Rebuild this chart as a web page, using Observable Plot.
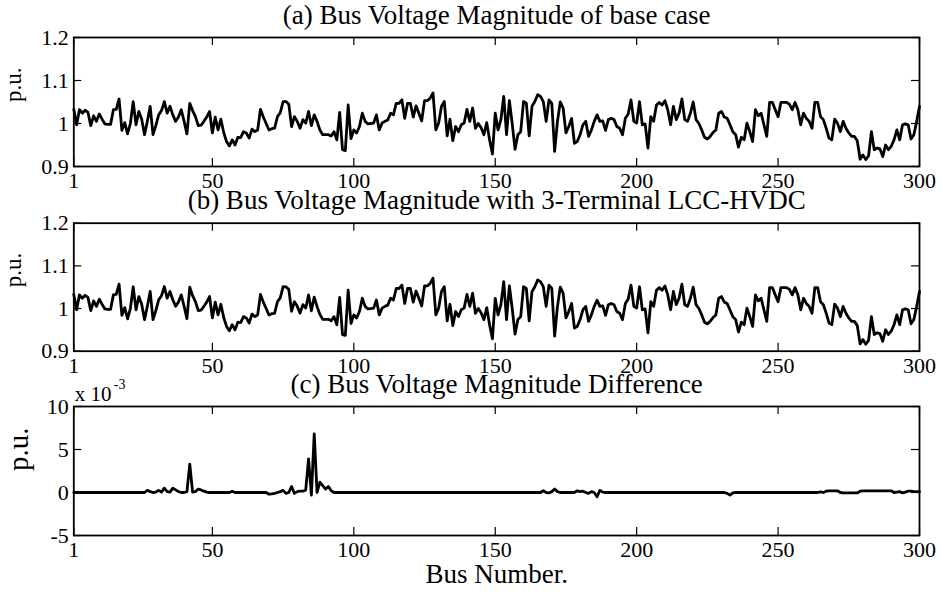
<!DOCTYPE html>
<html>
<head>
<meta charset="utf-8">
<script src="https://cdn.jsdelivr.net/npm/d3@7"></script>
<script src="https://cdn.jsdelivr.net/npm/@observablehq/plot@0.6"></script>
<style>
  html, body { margin: 0; padding: 0; background: #ffffff; }
  #chart { position: relative; width: 942px; height: 592px; overflow: hidden; background: #ffffff; }
  #chart svg { position: absolute; left: 0; overflow: visible; background: transparent; }
  #chart svg, #chart svg text { font-family: "Liberation Serif", "Times New Roman", serif !important; }
</style>
</head>
<body>
<div id="chart"></div>
<script>
// ---------- data ----------
const busNumbers = d3.range(1, 301);

// (a) base-case bus voltage magnitude, p.u., buses 1..300
const voltageBase = [
  1.033, 0.997, 1.032, 1.024, 1.031, 1.026, 0.995, 1.018, 1.005, 1.022, 1.010, 0.999, 0.998, 0.998, 1.032, 1.033, 1.057, 0.984, 1.002, 0.976, 1.000, 1.051, 0.997, 1.028, 1.010,
  0.974, 1.005, 1.040, 0.974, 0.995, 1.020, 1.030, 1.051, 1.024, 1.040, 1.020, 1.005, 1.015, 1.032, 1.005, 0.976, 1.047, 1.030, 1.016, 0.995, 0.996, 1.005, 1.015, 1.028, 0.978,
  1.015, 0.985, 1.010, 0.979, 0.958, 0.948, 0.962, 0.950, 0.968, 0.967, 0.981, 0.978, 0.966, 0.987, 0.981, 0.985, 1.033, 1.015, 1.000, 0.985, 0.988, 0.989, 1.016, 1.025, 1.051,
  1.051, 1.045, 0.993, 1.016, 1.005, 0.989, 1.009, 1.001, 1.028, 0.995, 1.020, 1.005, 0.985, 0.974, 0.974, 0.974, 0.971, 0.981, 0.962, 1.026, 0.939, 0.937, 1.043, 0.965, 0.985,
  0.978, 0.993, 1.024, 1.005, 0.999, 1.000, 1.001, 1.020, 0.985, 1.001, 1.005, 1.008, 1.024, 1.020, 1.047, 1.047, 1.055, 1.012, 1.047, 1.047, 1.015, 1.041, 1.024, 1.006, 1.053,
  1.053, 1.059, 1.071, 0.985, 1.001, 1.040, 1.051, 0.971, 1.010, 0.960, 0.993, 0.981, 0.997, 1.001, 1.033, 1.005, 1.036, 0.989, 1.000, 0.990, 0.974, 1.002, 0.962, 0.929, 1.024,
  0.985, 1.009, 1.063, 0.974, 1.053, 1.000, 0.940, 0.974, 0.981, 1.051, 1.047, 0.971, 1.040, 1.051, 1.067, 1.063, 1.051, 1.005, 1.055, 1.047, 0.935, 1.005, 1.050, 1.036, 0.978,
  0.993, 1.012, 0.954, 0.958, 0.974, 0.997, 1.005, 0.970, 0.985, 1.005, 1.020, 1.005, 1.006, 0.984, 1.009, 1.012, 1.009, 0.993, 0.989, 0.974, 1.012, 1.022, 1.055, 1.005, 1.001,
  1.051, 0.997, 0.999, 0.943, 1.016, 1.005, 1.043, 1.049, 1.043, 1.053, 1.032, 0.997, 1.040, 1.009, 1.024, 1.057, 1.009, 1.005, 1.024, 1.050, 1.009, 1.000, 0.985, 0.968, 0.964,
  0.970, 0.979, 0.985, 1.024, 1.028, 1.015, 1.012, 0.997, 0.981, 0.974, 0.945, 0.968, 0.962, 1.001, 0.981, 0.958, 1.032, 1.018, 1.024, 0.997, 0.970, 1.049, 1.049, 1.032, 1.016,
  1.049, 1.049, 1.049, 1.045, 1.032, 1.049, 1.032, 0.997, 1.024, 1.012, 1.005, 0.989, 1.049, 1.049, 1.016, 1.009, 0.989, 0.966, 0.962, 1.010, 1.001, 0.981, 1.005, 0.989, 0.978,
  0.970, 0.970, 0.960, 0.917, 0.927, 0.916, 0.925, 0.981, 0.939, 0.943, 0.941, 0.923, 0.950, 0.939, 0.947, 0.962, 0.985, 0.962, 0.997, 0.999, 0.997, 0.964, 0.974, 1.005, 1.040
];

// (c) voltage magnitude difference (with HVDC minus base), in units of 1e-3 p.u.
const voltageDiff = [
  0, 0, 0, 0, 0, 0, 0, 0, 0, 0, 0, 0, 0, 0, 0, 0, 0, 0, 0, 0, 0, 0, 0, 0, 0,
  0, 0.25, 0.1, 0, 0.05, 0.25, 0.05, 0.5, 0.1, 0.05, 0.5, 0.3, 0.1, 0, 0, 0.1, 3.3, 0.05, 0.1, 0.4, 0.3, 0.15, 0.05, 0, 0,
  0, 0, 0, 0, 0, 0, 0.15, 0, 0, 0, 0, 0, 0, 0, 0, 0, 0, 0, 0, -0.2, -0.15, -0.1, 0, 0.1, 0.25,
  -0.1, 0, 0.7, -0.1, 0.1, 0.15, 0.15, 0.3, 3.9, -0.3, 6.8, 0, 1.2, 0.8, 0.4, 0.7, 0.2, 0, 0, 0, 0, 0, 0, 0, 0,
  0, 0, 0, 0, 0, 0, 0, 0, 0, 0, 0, 0, 0, 0, 0, 0, 0, 0, 0, 0, 0, 0, 0, 0, 0,
  0, 0, 0, 0, 0, 0, 0, 0, 0, 0, 0, 0, 0, 0, 0, 0, 0, 0, 0, 0, 0, 0, 0, 0, 0,
  0, 0, 0, 0, 0, 0, 0, 0, 0, 0, 0, 0, 0, 0, 0, 0, 0.2, 0, -0.05, 0.1, 0.4, 0.1, 0, 0, 0,
  0, 0, 0, 0.2, 0.1, 0.15, 0, -0.1, 0.1, 0, -0.5, 0.25, 0.05, 0, 0, 0, 0, 0, 0, 0, 0, 0, 0, 0, 0,
  0, 0, 0, 0, 0, 0, 0, 0, 0, 0, 0, 0, 0, 0, 0, 0, 0, 0, 0, 0, 0, 0, 0, 0, 0,
  0, 0, 0, 0, 0, 0, -0.1, -0.3, -0.05, 0, 0, 0, 0, 0, 0, 0, 0, 0, 0, 0, 0, 0, 0, 0, 0,
  0, 0, 0, 0, 0, 0, 0, 0, 0, 0, 0, 0, 0, 0, 0.08, 0, 0.15, 0.2, 0.2, 0.2, 0.2, 0, -0.05, -0.05, -0.05,
  -0.05, -0.05, -0.05, 0.15, 0.2, 0.2, 0.2, 0.2, 0.2, 0.2, 0.2, 0.2, 0.2, 0.2, 0.2, 0, 0.05, 0.1, -0.05, 0.05, 0.15, 0.15, 0.1, 0.1, 0.1
];

// (b) with 3-terminal LCC-HVDC = base + difference
const voltageHvdc = voltageBase.map((v, i) => v + voltageDiff[i] / 1000);

const xTicks = [1, 50, 100, 150, 200, 250, 300];
const voltTicks = [0.9, 1, 1.1, 1.2];
const diffTicks = [-5, 0, 5, 10];
const titles = [
  "(a) Bus Voltage Magnitude of base case",
  "(b) Bus Voltage Magnitude with 3-Terminal LCC-HVDC",
  "(c) Bus Voltage Magnitude Difference"
];
const yLabel = "p.u.";
const xLabel = "Bus Number.";
const expBase = "x 10";
const expPower = "-3";

// ---------- drawing ----------
const FONT = "Liberation Serif, Times New Roman, serif";
const W = 942, ML = 73.3, MR = 23, TICK = 8;

function panel({values, yDomain, yTicks, title, top, height, marginTop, marginBottom, yLabelSize, yLabelDx, extra = []}) {
  const data = busNumbers.map((b, i) => ({bus: b, v: values[i]}));
  const innerH = height - marginTop - marginBottom;
  const innerW = W - ML - MR;
  const svg = Plot.plot({
    width: W, height,
    marginLeft: ML, marginRight: MR, marginTop, marginBottom,
    style: "font-family: 'Liberation Serif', 'Times New Roman', serif; color: black; background: transparent; overflow: visible;",
    x: {domain: [1, 300]},
    y: {domain: yDomain},
    marks: [
      Plot.line(data, {x: "bus", y: "v", stroke: "black", strokeWidth: 2.8}),
      Plot.ruleX(xTicks, {x: d => d, insetTop: innerH - TICK, stroke: "black", strokeWidth: 1.2}),
      Plot.ruleX(xTicks, {x: d => d, insetBottom: innerH - TICK, stroke: "black", strokeWidth: 1.2}),
      Plot.ruleY(yTicks, {y: d => d, insetRight: innerW - TICK, stroke: "black", strokeWidth: 1.2}),
      Plot.ruleY(yTicks, {y: d => d, insetLeft: innerW - TICK, stroke: "black", strokeWidth: 1.2}),
      Plot.frame({stroke: "black", strokeWidth: 1.8}),
      Plot.axisX(xTicks, {tickSize: 0, tickPadding: 6, tickFormat: d => String(d), label: null, fontSize: 22, fontFamily: FONT}),
      Plot.axisY(yTicks, {tickSize: 0, tickPadding: 5, tickFormat: d => String(d), label: null, fontSize: 22, fontFamily: FONT}),
      Plot.text([title], {text: d => d, frameAnchor: "top", dy: -14, lineAnchor: "bottom", fontSize: 27, fontFamily: FONT}),
      Plot.text([yLabel], {text: d => d, frameAnchor: "left", rotate: -90, dx: yLabelDx, lineAnchor: "bottom", fontSize: yLabelSize, fontFamily: FONT}),
      ...extra
    ]
  });
  svg.style.top = top + "px";
  document.getElementById("chart").appendChild(svg);
}

panel({values: voltageBase, yDomain: [0.9, 1.2], yTicks: voltTicks, title: titles[0],
  top: 0, height: 190, marginTop: 37, marginBottom: 24, yLabelSize: 23, yLabelDx: -53});

panel({values: voltageHvdc, yDomain: [0.9, 1.2], yTicks: voltTicks, title: titles[1],
  top: 190, height: 190, marginTop: 32.7, marginBottom: 29.3, yLabelSize: 23, yLabelDx: -53});

panel({values: voltageDiff, yDomain: [-5, 10], yTicks: diffTicks, title: titles[2],
  top: 380, height: 212, marginTop: 26, marginBottom: 57, yLabelSize: 29, yLabelDx: -46,
  extra: [
    Plot.text([expBase], {text: d => d, frameAnchor: "top-left", textAnchor: "start", lineAnchor: "bottom", dx: 1, dy: -6, fontSize: 21, fontFamily: FONT}),
    Plot.text([expPower], {text: d => d, frameAnchor: "top-left", textAnchor: "start", lineAnchor: "bottom", dx: 40, dy: -18, fontSize: 14, fontFamily: FONT}),
    Plot.text([xLabel], {text: d => d, frameAnchor: "bottom", lineAnchor: "bottom", dy: 47, fontSize: 27, fontFamily: FONT})
  ]});
</script>
</body>
</html>
